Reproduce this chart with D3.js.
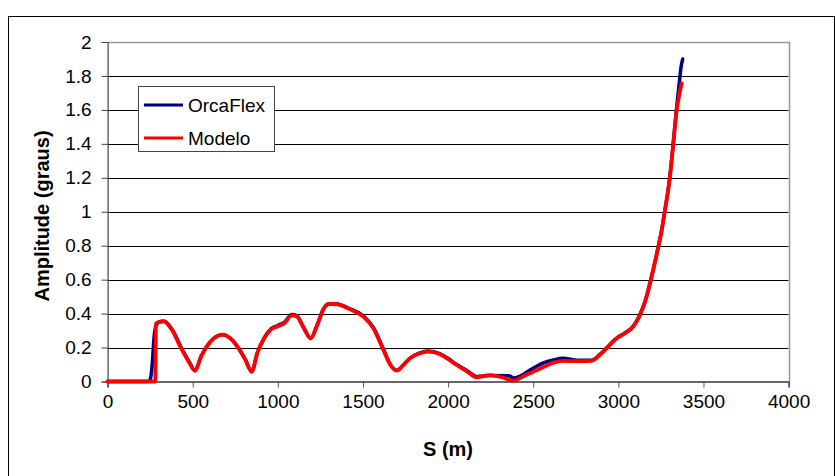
<!DOCTYPE html>
<html><head><meta charset="utf-8">
<script src="https://cdn.jsdelivr.net/npm/d3@7"></script>
<style>body{margin:0;background:#fff}svg{display:block}text{font-family:Arial,"Liberation Sans",sans-serif}</style>
</head><body>
<svg id="c" width="835" height="476"></svg>
<script>
const seriesNames = ["OrcaFlex", "Modelo"];
const seriesColors = ["#000080", "#ff0000"];
const xTicks = [0, 500, 1000, 1500, 2000, 2500, 3000, 3500, 4000];
const yTicks = [0, 0.2, 0.4, 0.6, 0.8, 1, 1.2, 1.4, 1.6, 1.8, 2];

const orcaS = [0,237,250,262,272,285,300,330,380,430,480,513,550,600,640,676,720,770,810,846,880,920,960,1000,1040,1081,1110,1150,1193,1230,1270,1300,1346,1424,1502,1561,1620,1660,1698,1740,1776,1830,1884,1950,2001,2050,2110,2168,2246,2360,2383,2420,2470,2520,2560,2618,2677,2760,2843,2890,2931,2990,3039,3088,3127,3157,3186,3209,3235,3255,3274,3290,3303,3323,3343,3358,3368,3378];
const orcaV = [0,0,0.01,0.1,0.25,0.33,0.35,0.355,0.305,0.205,0.115,0.064,0.15,0.23,0.266,0.276,0.255,0.195,0.127,0.058,0.17,0.256,0.31,0.33,0.35,0.395,0.388,0.32,0.254,0.33,0.43,0.457,0.457,0.428,0.387,0.318,0.19,0.1,0.066,0.1,0.137,0.167,0.18,0.165,0.135,0.1,0.065,0.03,0.035,0.034,0.02,0.03,0.06,0.09,0.11,0.127,0.137,0.125,0.125,0.158,0.198,0.256,0.286,0.326,0.395,0.472,0.58,0.678,0.796,0.894,1.012,1.11,1.21,1.41,1.62,1.76,1.85,1.9];

const modS = [0,280,284,300,330,380,430,480,513,550,600,640,676,720,770,810,846,880,920,960,1000,1040,1081,1110,1150,1193,1230,1270,1300,1346,1424,1502,1561,1620,1660,1698,1740,1776,1830,1884,1950,2001,2050,2110,2168,2246,2315,2383,2440,2500,2560,2618,2677,2760,2843,2890,2931,2990,3039,3088,3127,3157,3186,3209,3235,3255,3274,3290,3303,3323,3343,3360,3372];
const modV = [0,0,0.34,0.35,0.355,0.30,0.2,0.11,0.064,0.15,0.23,0.266,0.276,0.254,0.195,0.127,0.058,0.17,0.256,0.307,0.325,0.345,0.39,0.385,0.32,0.254,0.33,0.43,0.457,0.455,0.425,0.382,0.313,0.186,0.1,0.064,0.1,0.137,0.165,0.176,0.162,0.131,0.097,0.06,0.025,0.038,0.025,0.005,0.03,0.058,0.085,0.111,0.121,0.12,0.122,0.156,0.196,0.254,0.284,0.323,0.392,0.47,0.578,0.676,0.794,0.892,1.01,1.11,1.206,1.403,1.6,1.7,1.757];

const svg = d3.select("#c");
const L = 107.6, R = 788.6, T = 42, B = 381.5;
const x = d3.scaleLinear().domain([0, 4000]).range([L, R]);
const y = d3.scaleLinear().domain([0, 2]).range([B, T]);

// outer chart border
svg.append("rect").attr("x", 8.5).attr("y", 16.5).attr("width", 826).attr("height", 470)
  .attr("fill", "none").attr("stroke", "#000").attr("stroke-width", 1);

// gridlines
svg.append("g").selectAll("line").data(yTicks.filter(d => d > 0 && d < 2)).join("line")
  .attr("x1", L).attr("x2", R).attr("y1", d => Math.round(y(d)) + 0.5).attr("y2", d => Math.round(y(d)) + 0.5)
  .attr("stroke", "#000").attr("stroke-width", 1);

// plot border top/right
svg.append("path").attr("d", `M${L},${Math.round(T)+0.5}H${Math.round(R)+0.5}V${B}`)
  .attr("fill", "none").attr("stroke", "#999").attr("stroke-width", 1.5);

// axes
const xAxis = d3.axisBottom(x).tickValues(xTicks).tickSize(6).tickPadding(6).tickFormat(d3.format("d"));
const gx = svg.append("g").attr("transform", `translate(0,${B})`).call(xAxis);
gx.select(".domain").attr("stroke", "#666").attr("stroke-width", 2);
gx.selectAll(".tick line").attr("stroke", "#555");
gx.selectAll("text").attr("font-size", 19).attr("fill", "#000").attr("dy", "0.75em");

const yAxis = d3.axisLeft(y).tickValues(yTicks).tickSize(6).tickPadding(10).tickFormat(d => String(+d.toFixed(1)));
const gy = svg.append("g").attr("transform", `translate(${L},0)`).call(yAxis);
gy.select(".domain").attr("stroke", "#444").attr("stroke-width", 1.2);
gy.selectAll(".tick line").attr("stroke", "#444");
gy.selectAll("text").attr("font-size", 19).attr("fill", "#000");

// titles
svg.append("text").attr("x", 448).attr("y", 456).attr("text-anchor", "middle")
  .attr("font-size", 20).attr("font-weight", "bold").text("S (m)");
svg.append("text").attr("transform", "translate(49,216) rotate(-90)").attr("text-anchor", "middle")
  .attr("font-size", 20).attr("font-weight", "bold").text("Amplitude (graus)");

// series
const data = [orcaS.map((s, i) => [s, orcaV[i]]), modS.map((s, i) => [s, modV[i]])];
const widths = [3.5, 3.8];
const line = d3.line().x(d => x(d[0])).y(d => y(d[1])).curve(d3.curveMonotoneX);
svg.append("g").selectAll("path").data(data).join("path")
  .attr("d", line).attr("fill", "none")
  .attr("stroke", (d, i) => seriesColors[i]).attr("stroke-width", (d, i) => widths[i])
  .attr("stroke-linejoin", "round").attr("stroke-linecap", "round");

// legend
const lg = svg.append("g");
lg.append("rect").attr("x", 138.5).attr("y", 86.5).attr("width", 136).attr("height", 65)
  .attr("fill", "#fff").attr("stroke", "#444").attr("stroke-width", 1);
const items = lg.selectAll("g").data(seriesNames).join("g")
  .attr("transform", (d, i) => `translate(0,${105 + i * 33})`);
items.append("line").attr("x1", 144).attr("x2", 183).attr("y1", 0).attr("y2", 0)
  .attr("stroke", (d, i) => seriesColors[i]).attr("stroke-width", 3);
items.append("text").attr("x", 188).attr("y", 0).attr("dy", "0.35em").attr("font-size", 19).text(d => d);
</script>
</body></html>
